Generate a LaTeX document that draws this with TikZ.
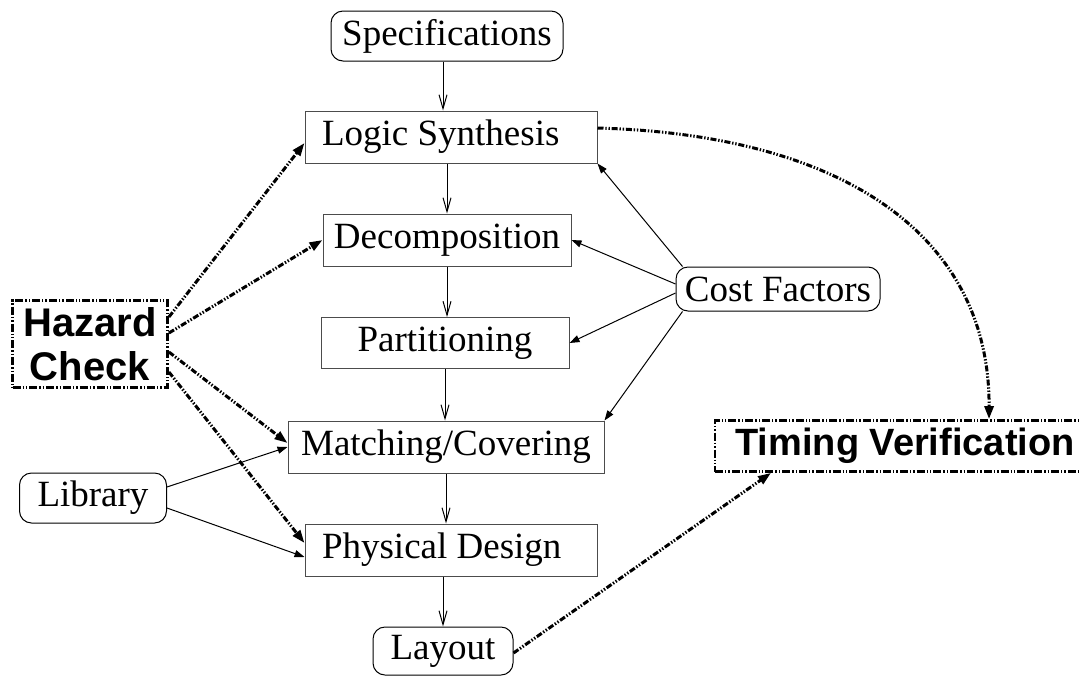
\documentclass[tikz,border=0pt]{standalone}
\usepackage{fontspec}
\setmainfont{Liberation Serif}
\newfontfamily\hvfont{Liberation Sans}
\usetikzlibrary{arrows.meta}

\begin{document}
\begin{tikzpicture}[x=0.5pt, y=-0.5pt,
      font=\fontsize{18.5}{22}\selectfont,
      blk/.style={rectangle, draw=black!70, line width=0.5pt, inner sep=0pt},
      lblk/.style={blk, inner xsep=8.5pt, text width=129pt, align=flush left, minimum height=26pt},
      rblk/.style={blk, draw=black, rounded corners=6pt},
      chk/.style={rectangle, draw, line width=1.4pt, inner sep=0pt, align=center,
                  dash pattern=on 4pt off 1pt on 0.7pt off 1pt on 0.7pt off 1pt},
      arr/.style={-{Straight Barb[length=7pt,width=4pt]}, line width=0.5pt},
      farr/.style={-{Triangle[length=5pt,width=3.5pt]}, line width=0.5pt},
      darr/.style={-{Triangle[length=6.5pt,width=4.5pt]}, line width=1.5pt,
                   dash pattern=on 3pt off 0.9pt on 0.7pt off 0.9pt on 0.7pt off 0.9pt}]
    \useasboundingbox (0,0) rectangle (1080,675);

    % main flow
    \node[rblk, minimum width=116pt, minimum height=25pt] (spec)   at (447,36)  {Specifications};
    \node[lblk] (logic)  at (451,137) {Logic Synthesis};
    \node[blk,  minimum width=124pt, minimum height=26pt] (decomp) at (447,240) {Decomposition};
    \node[blk,  minimum width=124pt, minimum height=25.5pt] (part) at (445,343) {Partitioning};
    \node[blk,  minimum width=158pt, minimum height=26pt] (match)  at (446,447) {Matching/Covering};
    \node[lblk] (phys)   at (451,550) {Physical Design};
    \node[rblk, minimum width=70pt,  minimum height=24pt] (layout) at (443,651) {Layout};

    % side inputs
    \node[rblk, minimum width=102pt, minimum height=22pt] (cost)    at (778,289) {Cost Factors};
    \node[rblk, minimum width=73.5pt, minimum height=25pt] (library) at (93,498) {Library};
    \node[chk,  minimum width=77.5pt, minimum height=43.5pt,
          font=\hvfont\bfseries\fontsize{20}{22}\selectfont] (hazard) at (90,344) {Hazard\\Check};
    \node[chk,  minimum width=190pt, minimum height=25.5pt,
          font=\hvfont\bfseries\fontsize{19}{22}\selectfont] (timing) at (905,446) {Timing Verification};

    \draw[arr] (layout |- spec.south) -- (layout |- logic.north);
    \draw[arr] (decomp |- logic.south) -- (decomp);
    \draw[arr] (decomp) -- (decomp |- part.north);
    \draw[arr] (part)   -- (part |- match.north);
    \draw[arr] (match)  -- (match |- phys.north);
    \draw[arr] (layout |- phys.south) -- (layout);

    \draw[farr] ([xshift=3.5pt]cost.north west) -- (logic.south east);
    \draw[farr] ([yshift=2.5pt]cost.west) -- (decomp.east);
    \draw[farr] ([yshift=-2pt]cost.west) -- (part.east);
    \draw[farr] ([xshift=3.5pt]cost.south west) -- (match.north east);

    \draw[farr] ([yshift=5.5pt]library.east) -- (match.west);
    \draw[farr] ([yshift=-5pt]library.east) -- ([yshift=-3.5pt]phys.west);

    \draw[darr] ([yshift=13.5pt]hazard.east) -- ([yshift=-3pt]logic.west);
    \draw[darr] ([yshift=5.5pt]hazard.east) -- (decomp.west);
    \draw[darr] ([yshift=-4pt]hazard.east) -- ([yshift=2pt]match.west);
    \draw[darr] ([yshift=-14pt]hazard.east) -- ([yshift=3.5pt]phys.west);

    \draw[darr] ([yshift=4.5pt]logic.east) .. controls (850,135) and (990,240) .. ([xshift=42pt]timing.north);
    \draw[darr] ([yshift=-1pt]layout.east) -- ([xshift=-67pt]timing.south);
  \end{tikzpicture}
\end{document}
